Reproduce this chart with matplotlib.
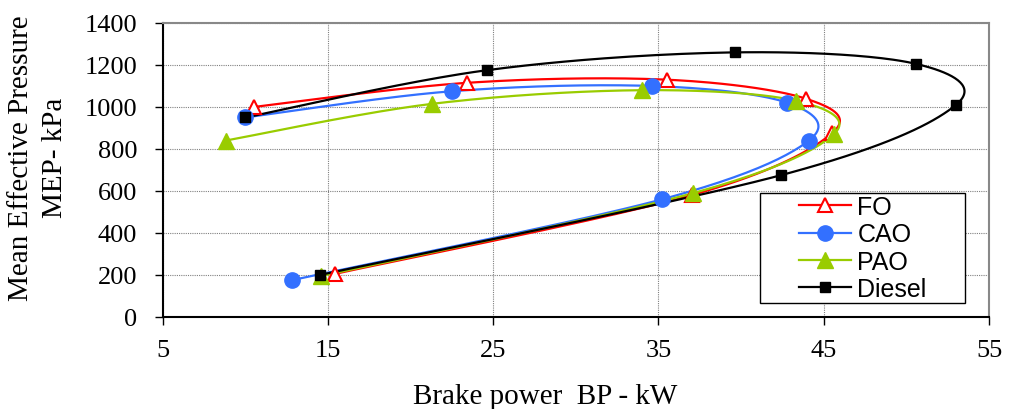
import numpy as np
import matplotlib
matplotlib.use("Agg")
import matplotlib.pyplot as plt
from matplotlib.patches import Rectangle

# Brake power (kW) and mean effective pressure (kPa) for each fuel
fo_bp = [15.4, 37.0, 45.5, 43.9, 35.5, 23.4, 10.5]
fo_mep = [205, 580, 875, 1040, 1130, 1115, 1000]

cao_bp = [12.8, 35.2, 44.1, 42.8, 34.6, 22.5, 10.0]
cao_mep = [175, 560, 840, 1020, 1100, 1075, 950]

pao_bp = [14.6, 37.1, 45.6, 43.3, 34.0, 21.3, 8.8]
pao_mep = [195, 590, 870, 1030, 1080, 1015, 840]

diesel_bp = [14.5, 42.4, 53.0, 50.6, 39.6, 24.6, 10.0]
diesel_mep = [200, 675, 1010, 1205, 1260, 1175, 950]

x_ticks = [5, 15, 25, 35, 45, 55]
y_ticks = [0, 200, 400, 600, 800, 1000, 1200, 1400]


def smooth(xs, ys, n=40):
    """Smoothed line through points using cubic Bezier segments."""
    p = np.column_stack([xs, ys]).astype(float)
    m = len(p)
    out = [p[0]]
    for i in range(m - 1):
        p0 = p[i - 1] if i > 0 else p[i]
        p1 = p[i]
        p2 = p[i + 1]
        p3 = p[i + 2] if i + 2 < m else p[i + 1]
        c1 = p1 + (p2 - p0) / 6.0
        c2 = p2 - (p3 - p1) / 6.0
        t = np.linspace(0, 1, n)[1:, None]
        seg = ((1 - t) ** 3) * p1 + 3 * ((1 - t) ** 2) * t * c1 \
            + 3 * (1 - t) * t ** 2 * c2 + t ** 3 * p2
        out.extend(seg)
    out = np.array(out)
    return out[:, 0], out[:, 1]


W, H = 1015, 410
fig = plt.figure(figsize=(W / 100, H / 100), dpi=100)
ax = fig.add_axes([0.1603, 0.2244, 0.8141, 0.7171])

series = [
    ("FO", fo_bp, fo_mep, dict(color="#ff0000", marker="^", mfc="white",
                                 mec="#ff0000", ms=10, mew=1.5)),
    ("CAO", cao_bp, cao_mep, dict(color="#3370ff", marker="o", mfc="#3370ff",
                                    mec="#3370ff", ms=11)),
    ("PAO", pao_bp, pao_mep, dict(color="#99cc00", marker="^", mfc="#99cc00",
                                    mec="#99cc00", ms=11)),
    ("Diesel", diesel_bp, diesel_mep, dict(color="black", marker="s",
                                           mfc="black", mec="black", ms=6.5)),
]

for label, xs, ys, st in series:
    sx, sy = smooth(xs, ys)
    ax.plot(sx, sy, color=st["color"], lw=1.6, zorder=3)
    ax.plot(xs, ys, ls="none", marker=st["marker"], mfc=st["mfc"],
            mec=st["mec"], ms=st["ms"], mew=st.get("mew", 1), zorder=4)
    ax.plot([], [], color=st["color"], lw=1.6, marker=st["marker"],
            mfc=st["mfc"], mec=st["mec"], ms=st["ms"],
            mew=st.get("mew", 1), label=label)

ax.set_xlim(5, 55)
ax.set_ylim(0, 1400)
ax.set_xticks(x_ticks)
ax.set_yticks(y_ticks)
ax.grid(True, color="#808080", ls=(0, (1, 1)), lw=0.8, zorder=0)
ax.set_axisbelow(True)

for side in ("top", "right"):
    ax.spines[side].set_color("#888888")
    ax.spines[side].set_linewidth(1.5)
for side in ("left", "bottom"):
    ax.spines[side].set_color("black")
    ax.spines[side].set_linewidth(1.5)

serif = "Liberation Serif"
ax.tick_params(axis="both", direction="out", length=5.5, width=1,
               labelsize=19)
ax.tick_params(axis="x", pad=10)
ax.tick_params(axis="y", pad=13)
for lab in ax.get_xticklabels() + ax.get_yticklabels():
    lab.set_fontfamily(serif)

# Axis titles
fig.text(545 / W, 1 - 404 / H, "Brake power  BP - kW", fontsize=21,
         fontfamily=serif, ha="center", va="baseline")
fig.text(28.3 / W, 1 - 158.3 / H, "Mean Effective Pressure", fontsize=21,
         fontfamily=serif, rotation=90, rotation_mode="anchor",
         ha="center", va="baseline")
fig.text(61.7 / W, 1 - 158.3 / H, "MEP- kPa", fontsize=21,
         fontfamily=serif, rotation=90, rotation_mode="anchor",
         ha="center", va="baseline")

# Legend box and entries
ax.add_patch(Rectangle((0.7229, 0.0466), 0.9710 - 0.7229, 0.4212 - 0.0466,
                       transform=ax.transAxes, facecolor="white",
                       edgecolor="black", lw=1.0, zorder=6))
leg = ax.legend(loc="center", bbox_to_anchor=(0.8475, 0.2343),
                prop={"family": "Liberation Sans", "size": 18},
                frameon=False, handlelength=2.08, handletextpad=0.24,
                labelspacing=0.13, borderpad=0, borderaxespad=0)
leg.set_zorder(7)

fig.savefig("out.png", dpi=100)
